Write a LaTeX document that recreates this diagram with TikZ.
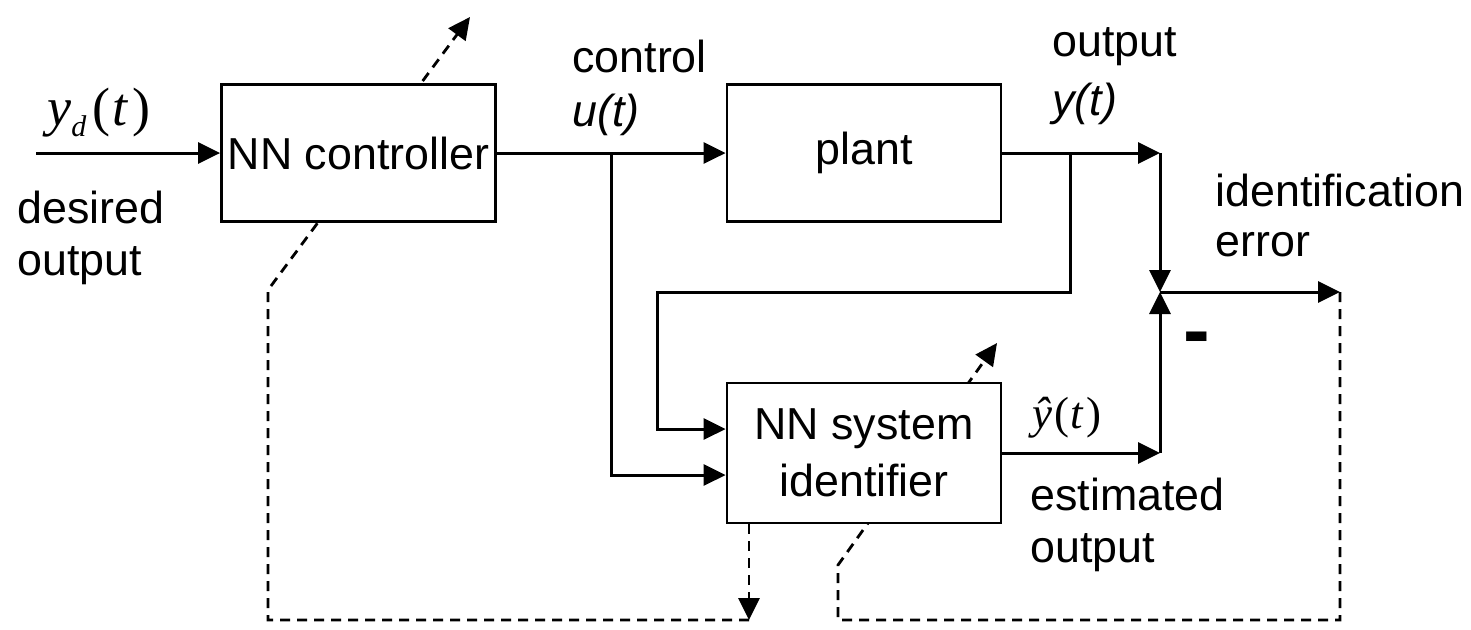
\documentclass[tikz,border=0pt]{standalone}
\usepackage{fontspec}
\setmainfont{Liberation Sans}
\newfontfamily\tms{Liberation Serif}
\usetikzlibrary{arrows.meta,backgrounds}
\begin{document}
\begin{tikzpicture}[x=0.5pt,y=-0.5pt,
  box/.style={draw,line width=1.4pt,fill=white,inner sep=0pt,minimum width=137pt,
    align=center,font=\fontsize{22.4}{28.5}\selectfont},
  tipp/.style={-{Triangle[length=11pt,width=10.5pt]}},
  conn/.style={line width=1.5pt,tipp},
  dashline/.style={line width=1.4pt,dash pattern=on 5pt off 3.5pt},
  lbl/.style={anchor=base west,inner sep=0pt,font=\fontsize{22.4}{26}\selectfont}
]
\useasboundingbox (0,0) rectangle (1471,629);

% blocks
\node[box,minimum height=68.5pt] (ctrl) at (358.5,153) {NN controller};
\node[box,minimum height=68.5pt] (plant) at (864,153) {plant};
\node[box,minimum height=70pt] (ident) at (864,453) {NN system\\identifier};

% coordinates
\coordinate (in) at (36,153);
\coordinate (ubr) at (611,153);
\coordinate (uin) at (611,475);
\coordinate (ybr) at (1070,153);
\coordinate (yfb1) at (1070,292);
\coordinate (yfb2) at (657,292);
\coordinate (yfb3) at (657,429);
\coordinate (jtop) at (1160,153);
\coordinate (junc) at (1160,292);
\coordinate (jbot) at (1160,453);
\coordinate (err) at (1340,292);

\coordinate (dl1) at (749,620);
\coordinate (dl2) at (268,620);
\coordinate (dl3) at (268,290);
\coordinate (dl4) at (470,17);
\coordinate (dr1) at (1340,620);
\coordinate (dr2) at (838,620);
\coordinate (dr3) at (838,565);
\coordinate (dr4) at (997,343);

% solid connectors
\draw[conn] (in) -- (ctrl.west);
\draw[conn] (ctrl.east) -- (plant.west);
\draw[conn] (ubr) -- (uin) -- (uin -| ident.west);
\draw[conn] (ybr) -- (yfb1) -- (yfb2) -- (yfb3) -- (yfb3 -| ident.west);
\draw[conn] (plant.east) -- (jtop);
\draw[conn] (jtop) -- (junc);
\draw[conn] (ident.east) -- (jbot);
\draw[conn] (jbot) -- (junc);
\draw[conn] (junc) -- (err);

% dashed adaptation paths
\begin{pgfonlayer}{background}
\draw[dashline,tipp] (ident.south -| dl1) -- (dl1);
\draw[dashline,tipp] (dl1) -- (dl2) -- (dl3) -- (dl4);
\draw[dashline,tipp] (err) -- (dr1) -- (dr2) -- (dr3) -- (dr4);
\end{pgfonlayer}

% labels
\node[lbl,font=\tms\fontsize{27}{27}\selectfont] (yd) at (47,125)
  {\itshape y\raisebox{-0.22em}{\fontsize{15}{15}\selectfont d}\hspace{3pt}\upshape(\hspace{1pt}\itshape t\hspace{2.5pt}\upshape)};
\node[lbl] (des1) at (17,223) {desired};
\node[lbl] (des2) at (17,275) {output};
\node[lbl] (ctl) at (572,72) {control};
\node[lbl] (ut) at (572,126) {\itshape u(t)};
\node[lbl] (out1) at (1052,56) {output};
\node[lbl] (yt) at (1052,115) {\itshape y(t)};
\node[lbl] (ide1) at (1215,206) {identification};
\node[lbl] (ide2) at (1215,256) {error};
\node[lbl] (minus) at (1183,357) {\fontsize{40}{40}\selectfont\bfseries -};
\node[lbl,font=\tms\fontsize{22.5}{22.5}\selectfont] (yh) at (1032,428)
  {\itshape \^{y}\hspace{1pt}\upshape(\hspace{0.5pt}\itshape t\hspace{2pt}\upshape)};
\node[lbl] (est1) at (1030,510) {estimated};
\node[lbl] (est2) at (1030,562) {output};
\end{tikzpicture}
\end{document}
